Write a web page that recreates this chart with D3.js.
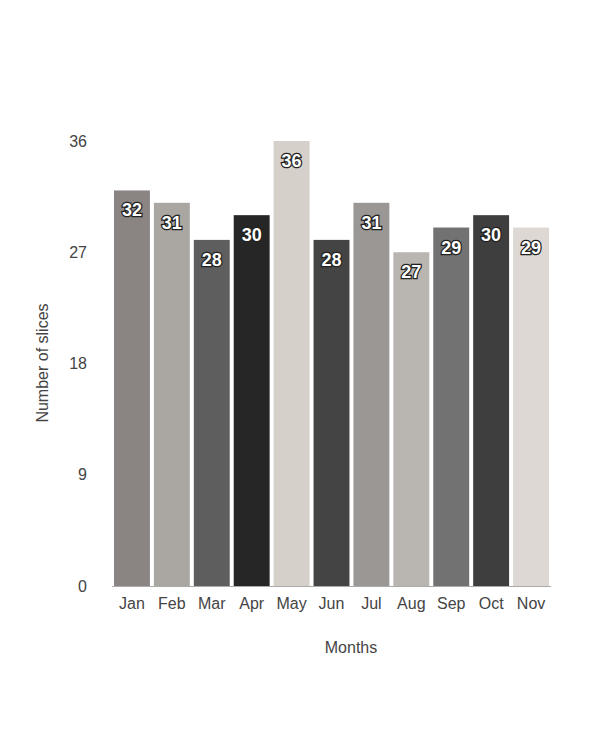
<!DOCTYPE html><html><head><meta charset="utf-8">
<script src="https://cdn.jsdelivr.net/npm/d3@7"></script>
<style>body{margin:0;background:#fff}text{font-family:"Liberation Sans",Arial,sans-serif}</style></head>
<body><svg id="c" width="595" height="751"></svg>
<script>
const months=["Jan","Feb","Mar","Apr","May","Jun","Jul","Aug","Sep","Oct","Nov"];
const values=[32,31,28,30,36,28,31,27,29,30,29];
const colors=["#8a8583","#aaa7a3","#5e5e5e","#262626","#d5d0ca","#444444","#9a9794","#b9b5b0","#727272","#3e3e3e","#ddd8d3"];
const yTicks=[0,9,18,27,36];
const svg=d3.select("#c");
const L=112,R=551,T=141,B=586;
const x=d3.scaleBand().domain(months).range([L,R]).paddingInner(0.1).paddingOuter(0.05);
const y=d3.scaleLinear().domain([0,36]).range([B,T]);
svg.append("g").selectAll("rect").data(values).join("rect")
 .attr("x",(d,i)=>x(months[i])).attr("y",d=>y(d)).attr("width",x.bandwidth()).attr("height",d=>B-y(d)).attr("fill",(d,i)=>colors[i]);
svg.append("line").attr("x1",L).attr("x2",R).attr("y1",B+0.5).attr("y2",B+0.5).attr("stroke","#aaa");
const ya=svg.append("g").attr("transform",`translate(${L-25},0)`).call(d3.axisLeft(y).tickValues(yTicks).tickSize(0).tickPadding(0));
ya.select(".domain").remove();
ya.selectAll("text").attr("font-size",16).attr("fill","#444").style("font-family","Liberation Sans, Arial");
const xa=svg.append("g").attr("transform",`translate(0,${B})`).call(d3.axisBottom(x).tickSize(0).tickPadding(12));
xa.select(".domain").remove();
xa.selectAll("text").attr("font-size",16).attr("fill","#444").style("font-family","Liberation Sans, Arial");
svg.append("g").selectAll("text").data(values).join("text")
 .attr("x",(d,i)=>x(months[i])+x.bandwidth()/2).attr("y",d=>y(d)+26).attr("text-anchor","middle")
 .attr("font-size",18).attr("font-weight","bold").attr("fill","#fff").attr("stroke","#222").attr("stroke-width",2.5).attr("paint-order","stroke")
 .text(d=>d);
svg.append("text").attr("x",351).attr("y",653).attr("text-anchor","middle").attr("font-size",16).attr("fill","#444").text("Months");
svg.append("text").attr("transform","translate(48,363) rotate(-90)").attr("text-anchor","middle").attr("font-size",16).attr("fill","#444").text("Number of slices");
</script></body></html>
